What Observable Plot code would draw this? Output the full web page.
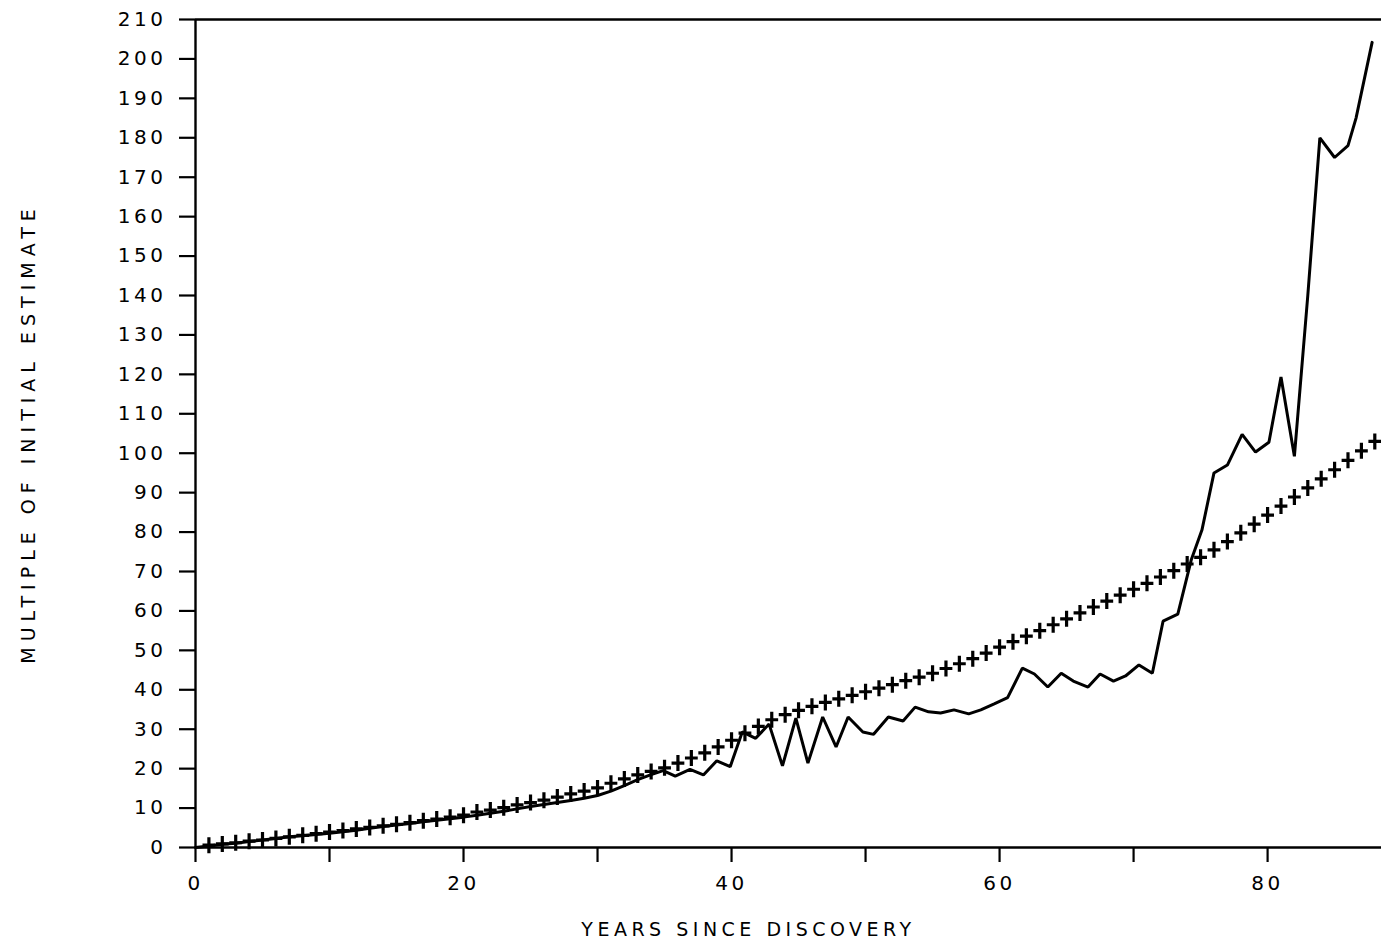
<!DOCTYPE html>
<html>
<head>
<meta charset="utf-8">
<script src="https://cdn.jsdelivr.net/npm/d3@7"></script>
<script src="https://cdn.jsdelivr.net/npm/@observablehq/plot@0.6"></script>
<style>
  html, body { margin: 0; padding: 0; background: #fff; }
  #chart svg { display: block; }
</style>
</head>
<body>
<div id="chart"></div>
<script>
// ---- data ----
// model curve (plus markers), one per year 1..88
const crossYears = d3.range(1, 89);
const crossValues = [
  0.6, 0.9, 1.2, 1.6, 1.9, 2.3, 2.7, 3.1, 3.5, 3.9,
  4.3, 4.7, 5.1, 5.5, 5.9, 6.3, 6.8, 7.2, 7.7, 8.2,
  9.0, 9.5, 10.1, 10.8, 11.4, 12.0, 12.8, 13.6, 14.3, 15.1,
  16.3, 17.4, 18.4, 19.3, 20.2, 21.4, 22.7, 24.0, 25.5, 27.2,
  29.0, 30.7, 32.4, 33.7, 34.8, 35.8, 36.8, 37.7, 38.6, 39.5,
  40.4, 41.3, 42.3, 43.2, 44.2, 45.4, 46.6, 47.9, 49.3, 50.8,
  52.2, 53.6, 55.0, 56.5, 58.0, 59.5, 61.0, 62.5, 64.0, 65.5,
  67.0, 68.6, 70.2, 71.9, 73.6, 75.5, 77.6, 79.8, 82.0, 84.3,
  86.6, 88.9, 91.2, 93.5, 95.8, 98.2, 100.6, 103.0
];
// observed series (solid line)
const lineYears = [
  0, 1, 2, 3, 4, 5, 6, 7, 8, 9,
  10, 11, 12, 13, 14, 15, 16, 17, 18, 19,
  20, 21, 22, 23, 24, 25, 26, 27, 28, 29,
  30, 31, 32, 33, 34, 34.9, 35.8, 36.9, 37.9, 38.9,
  39.9, 40.8, 41.8, 42.8, 43.8, 44.8, 45.7, 46.8, 47.8, 48.7,
  49.8, 50.6, 51.7, 52.8, 53.7, 54.7, 55.6, 56.6, 57.7, 58.6,
  59.6, 60.6, 61.7, 62.6, 63.6, 64.6, 65.5, 66.6, 67.5, 68.5,
  69.4, 70.4, 71.4, 72.2, 73.3, 74.3, 75.1, 76.0, 77.0, 78.1,
  79.1, 80.1, 81.0, 82.0, 83.0, 83.9, 85.0, 86.0, 86.6, 87.8
];
const lineValues = [
  0, 0.4, 0.8, 1.1, 1.5, 1.9, 2.3, 2.7, 3.0, 3.3,
  3.6, 4.0, 4.4, 4.9, 5.3, 5.7, 6.1, 6.5, 6.9, 7.3,
  7.7, 8.2, 8.7, 9.2, 9.8, 10.4, 10.9, 11.4, 11.9, 12.5,
  13.2, 14.3, 15.7, 17.2, 18.5, 19.5, 18.1, 19.8, 18.4, 22.0,
  20.5, 29.3, 27.7, 31.3, 20.7, 32.8, 21.4, 33.1, 25.5, 33.1,
  29.3, 28.7, 33.1, 32.1, 35.6, 34.4, 34.1, 34.9, 33.9, 34.9,
  36.4, 38.0, 45.5, 44.0, 40.7, 44.2, 42.2, 40.7, 44.0, 42.2,
  43.5, 46.3, 44.2, 57.4, 59.2, 72.9, 80.5, 95.0, 97.0, 104.8,
  100.3, 102.8, 119.3, 99.2, 140, 180, 175, 178, 185, 204.2
];
const yTicks = d3.range(0, 211, 10);
const xTicks = [0, 10, 20, 30, 40, 50, 60, 70, 80];
const xLabel = "YEARS SINCE DISCOVERY";
const yLabel = "MULTIPLE OF INITIAL ESTIMATE";

const crossData = crossYears.map((x, i) => ({x, y: crossValues[i]}));
const lineData = lineYears.map((x, i) => ({x, y: lineValues[i]}));

// stroked plus glyph
const plusSymbol = {
  draw(context, size) {
    const r = Math.sqrt(size / Math.PI);
    context.moveTo(-r * 0.8, 0);
    context.lineTo(r * 0.8, 0);
    context.moveTo(0, -r);
    context.lineTo(0, r);
  }
};

const chart = Plot.plot({
  width: 1381,
  height: 952,
  marginLeft: 195,
  marginRight: 0,
  marginTop: 19,
  marginBottom: 105,
  style: {fontFamily: "DejaVu Sans", fontSize: "20px", letterSpacing: "3.5px", background: "#fff", color: "#000"},
  x: {domain: [0, 88.5]},
  y: {domain: [0, 210]},
  marks: [
    Plot.axisY({ticks: yTicks, tickSize: 16, tickPadding: 13, strokeWidth: 2.2, fontSize: 20, label: null}),
    Plot.axisX({ticks: xTicks, tickSize: 15, tickPadding: 13, strokeWidth: 2.2, fontSize: 20, label: null,
      tickFormat: d => d % 20 === 0 ? String(d) : ""}),
    Plot.ruleX([0], {strokeWidth: 2.4}),
    Plot.ruleY([0], {strokeWidth: 2.4}),
    Plot.ruleY([210], {strokeWidth: 2.4}),
    Plot.line(lineData, {x: "x", y: "y", stroke: "#000", strokeWidth: 3, strokeLinejoin: "miter"}),
    Plot.dot(crossData, {x: "x", y: "y", symbol: plusSymbol, r: 8, stroke: "#000", strokeWidth: 3.2, fill: "none"}),
    Plot.text([yLabel], {frameAnchor: "left", dx: -167, rotate: -90, textAnchor: "middle", fontSize: 19, fill: "#000"}),
    Plot.text([xLabel], {frameAnchor: "bottom", dy: 88, dx: -40, textAnchor: "middle", fontSize: 19, fill: "#000"})
  ]
});
// wider tracking for the axis titles, as in the reference
chart.querySelectorAll("text").forEach(t => {
  if (t.textContent === xLabel) t.setAttribute("letter-spacing", "4.5px");
  if (t.textContent === yLabel) t.setAttribute("letter-spacing", "6px");
});
document.getElementById("chart").appendChild(chart);
</script>
</body>
</html>
